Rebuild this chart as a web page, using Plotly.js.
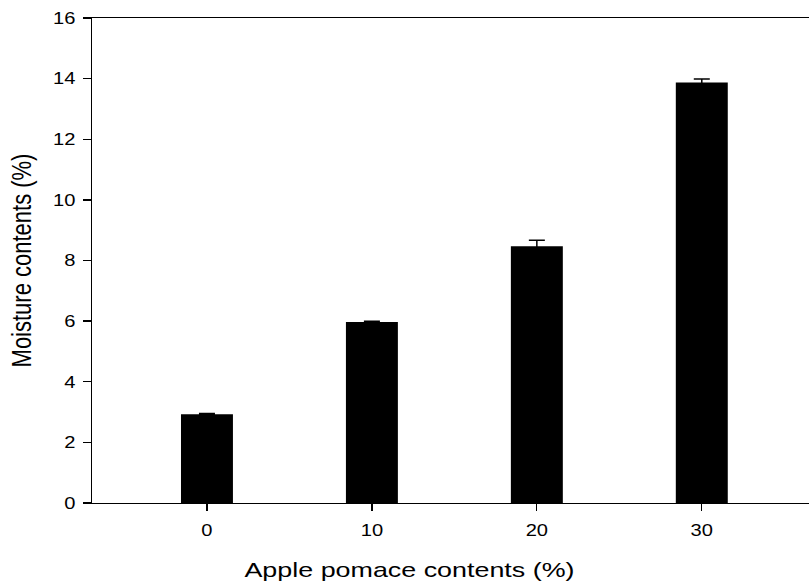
<!DOCTYPE html>
<html>
<head>
<meta charset="utf-8">
<script src="https://cdn.plot.ly/plotly-3.0.1.min.js"></script>
<style>
html,body{margin:0;padding:0;background:#fff;overflow:hidden;}
#chart{width:809px;height:583px;position:relative;}
#chart .bglayer rect, #chart rect.bg{stroke:none !important;stroke-width:0 !important;}
#edge{position:absolute;left:804px;top:21px;width:6px;height:480px;background:#fff;}
</style>
</head>
<body>
<div id="chart"></div>
<div id="edge"></div>
<script>
const categories = [0, 10, 20, 30];
const moisture = [2.93, 5.97, 8.47, 13.87];
const errors = [0.02, 0.03, 0.2, 0.12];
const yTicks = [0, 2, 4, 6, 8, 10, 12, 14, 16];

const trace = {
  type: 'bar',
  x: categories,
  y: moisture,
  width: 3.15,
  marker: {color: '#000000', line: {width: 0}},
  error_y: {type: 'data', array: errors, visible: true, color: '#000000', thickness: 1.5, width: 8}
};

const layout = {
  width: 809, height: 583,
  margin: {l: 92, r: 0, t: 18, b: 80, pad: 0},
  paper_bgcolor: '#ffffff', plot_bgcolor: 'rgba(0,0,0,0)',
  font: {family: 'Liberation Sans, Arial, sans-serif', color: '#000000', size: 16.5},
  showlegend: false,
  xaxis: {
    range: [-6.97, 36.5],
    tickvals: categories,
    ticktext: categories.map(String),
    showgrid: false, zeroline: false,
    showline: true, mirror: true, linecolor: '#000000', linewidth: 1.3,
    ticks: 'outside', ticklen: 7, tickwidth: 1.3, tickcolor: '#000000',
    ticklabelstandoff: 5,
    tickfont: {size: 16.5},
    title: {text: 'Apple pomace contents (%)', font: {size: 21}, standoff: 24}
  },
  yaxis: {
    range: [0, 16],
    tickvals: yTicks,
    showgrid: false, zeroline: false,
    showline: true, mirror: false, linecolor: '#000000', linewidth: 1.3,
    ticks: 'outside', ticklen: 8, tickwidth: 1.3, tickcolor: '#000000',
    ticklabelstandoff: 4,
    tickfont: {size: 16.5},
    title: {text: 'Moisture contents (%)', font: {size: 22}, standoff: 8}
  }
};

function stretchX(el, k, dx) {
  const x = parseFloat(el.getAttribute('x')) || 0;
  const prev = el.getAttribute('transform') || '';
  el.setAttribute('transform', prev + ' translate(' + (x + (dx || 0)) + ',0) scale(' + k + ',1) translate(' + (-x) + ',0)');
}

Plotly.newPlot('chart', [trace], layout, {displayModeBar: false, staticPlot: true}).then(function () {
  const xt = document.querySelector('.xtitle');
  if (xt) stretchX(xt, 1.28, -41);
  const yt = document.querySelector('.ytitle');
  if (yt) {
    const y = parseFloat(yt.getAttribute('y')) || 0;
    const prev = yt.getAttribute('transform') || '';
    yt.setAttribute('transform', prev + ' translate(0,' + (y - 11) + ') scale(1,1.25) translate(0,' + (-y) + ')');
  }
  document.querySelectorAll('.xtick text, .ytick text').forEach(function (t) { stretchX(t, 1.22, 0); });
});
</script>
</body>
</html>
